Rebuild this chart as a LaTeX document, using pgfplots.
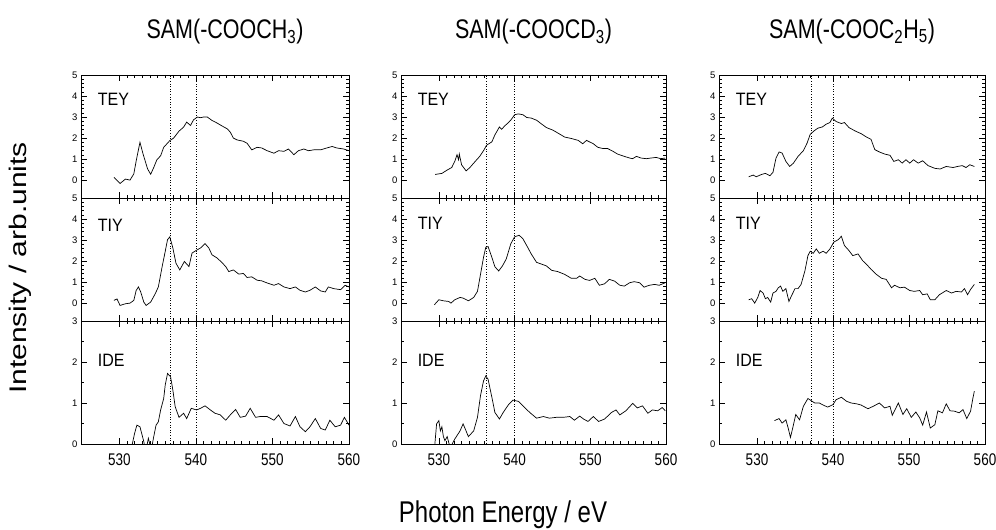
\documentclass[border=0pt]{standalone}
\usepackage{fontspec}
\setmainfont{Liberation Sans}
\usepackage{pgfplots}
\pgfplotsset{compat=1.18}

% the text of the reference is stretched vertically by about 1.25
\newcommand{\tall}[1]{\scalebox{1}[1.25]{#1}}

\pgfplotsset{
  panel/.style={
    scale only axis, height=123pt,
    xmin=525, xmax=560, xtick={530,540,550,560}, minor x tick num=9,
    major tick length=6pt, minor tick length=3pt,
    tick style={black, line width=0.6pt},
    axis line style={line width=0.8pt},
    yticklabel style={font=\fontsize{9.5}{10}\selectfont},
    xticklabel style={font=\fontsize{13.5}{14}\selectfont, yshift=-6pt},
    /pgf/number format/assume math mode=true,
    title style={font=\fontsize{21.5}{24}\selectfont, yshift=21pt},
  },
  upper/.style={panel, ymin=-0.85, ymax=5, ytick={0,...,5}, minor y tick num=4, xticklabels={}},
  lower/.style={panel, ymin=0, ymax=3, ytick={0,1,2,3}, minor y tick num=1,
    xticklabels={\tall{530},\tall{540},\tall{550},\tall{560}}},
  curve/.style={black, line width=0.7pt, no marks},
  vline/.style={black, dotted, line width=0.6pt, no marks},
}
\newcommand{\plab}[2]{\node[anchor=west, font=\fontsize{16}{18}\selectfont] at (rel axis cs:0.05,#1) {\scalebox{1}[1.12]{#2}};}

\begin{document}
\begin{tikzpicture}[x=1pt,y=1pt]
\useasboundingbox (0,0) rectangle (996,530);

% ---------------- column 1 : COOCH3 ----------------
\begin{axis}[upper, width=268pt, at={(81pt,332pt)}, anchor=south west,
  title={\tall{SAM(-COOCH\textsubscript{3})}}, title style={xshift=10pt}]
\addplot[vline] coordinates {(536.6,-1) (536.6,6)};
\addplot[vline] coordinates {(540.0,-1) (540.0,6)};
\addplot[curve] coordinates {
(529.3,0.13)(530.1,-0.16)(530.8,0.05)(531.4,0.0)(531.9,0.3)(532.2,0.9)(532.7,1.8)(533.1,1.25)
(533.7,0.53)(534.1,0.28)(534.5,0.6)(534.9,0.96)(535.4,1.16)(535.8,1.56)(536.6,1.88)(537.1,2.0)
(537.8,2.33)(538.4,2.52)(538.8,2.76)(539.3,2.6)(539.7,2.87)(540.2,3.0)(540.6,2.97)(541.0,3.0)
(541.5,3.0)(542.1,2.84)(542.8,2.71)(543.4,2.58)(544.1,2.44)(544.5,2.28)(544.9,2.0)(545.4,1.91)
(546.2,1.85)(546.7,1.75)(547.3,1.44)(548.0,1.56)(548.6,1.53)(549.3,1.4)(550.2,1.28)(550.8,1.4)
(551.5,1.37)(552.1,1.48)(552.8,1.21)(553.4,1.4)(554.1,1.48)(554.7,1.4)(555.4,1.44)(556.3,1.44)
(557.1,1.53)(557.8,1.6)(558.4,1.53)(559.3,1.48)(560,1.4)};
\plab{0.80}{TEY}
\end{axis}

\begin{axis}[upper, width=268pt, at={(81pt,209pt)}, anchor=south west]
\addplot[vline] coordinates {(536.6,-1) (536.6,6)};
\addplot[vline] coordinates {(540.0,-1) (540.0,6)};
\addplot[curve] coordinates {
(529.3,0.13)(529.7,0.2)(530.1,-0.11)(530.8,-0.03)(531.4,0)(531.9,0.13)(532.2,0.6)(532.5,0.77)
(532.8,0.53)(533.2,0.05)(533.5,-0.11)(534.1,0.05)(534.7,0.45)(535.1,0.77)(535.6,1.74)(536.0,2.46)
(536.3,3.02)(536.6,3.15)(537.0,2.62)(537.4,1.9)(537.9,1.58)(538.5,1.98)(539.1,1.74)(539.5,2.38)
(540.2,2.54)(540.6,2.62)(541.2,2.83)(541.7,2.62)(542.1,2.3)(542.8,2.14)(543.4,1.93)(543.9,1.74)
(544.3,1.5)(544.9,1.58)(545.6,1.38)(546.2,1.41)(546.7,1.22)(547.3,1.25)(548.0,1.09)(548.6,1.06)
(549.3,0.96)(550.2,0.85)(550.8,0.93)(551.5,0.77)(552.3,0.69)(553.0,0.77)(553.6,0.61)(554.3,0.53)
(554.9,0.61)(555.6,0.77)(556.3,0.58)(556.9,0.53)(557.3,0.77)(558.0,0.69)(558.9,0.64)(559.5,0.85)(560,0.77)};
\plab{0.78}{TIY}
\end{axis}

\begin{axis}[lower, width=268pt, at={(81pt,86pt)}, anchor=south west]
\addplot[vline] coordinates {(536.6,-1) (536.6,6)};
\addplot[vline] coordinates {(540.0,-1) (540.0,6)};
\addplot[curve] coordinates {
(531.5,-0.1)(531.7,0)(532.0,0.26)(532.3,0.46)(532.7,0.42)(533.2,0.06)(533.35,-0.1)(533.6,-0.05)
(533.8,0.14)(534.05,-0.05)(534.3,-0.02)(534.5,0.18)(534.8,0.46)(535.1,0.54)(535.4,0.83)(535.8,1.11)
(536.0,1.44)(536.3,1.72)(536.7,1.64)(537.0,1.31)(537.3,0.91)(537.8,0.65)(538.4,0.75)(538.8,0.62)
(539.4,0.87)(540.1,0.83)(540.6,0.87)(541.2,0.93)(541.9,0.83)(542.5,0.75)(543.2,0.71)(543.9,0.58)
(544.5,0.71)(545.2,0.84)(545.8,0.65)(546.5,0.68)(547.1,0.87)(547.8,0.65)(548.4,0.67)(549.3,0.67)
(550.2,0.58)(550.8,0.71)(551.5,0.5)(552.3,0.44)(553.0,0.67)(553.6,0.42)(554.3,0.3)(554.9,0.42)
(555.6,0.62)(556.3,0.38)(556.9,0.34)(557.5,0.58)(558.2,0.42)(558.9,0.46)(559.4,0.65)(560,0.46)};
\plab{0.68}{IDE}
\end{axis}

% ---------------- column 2 : COOCD3 ----------------
\begin{axis}[upper, width=265pt, at={(401pt,332pt)}, anchor=south west,
  title={\tall{SAM(-COOCD\textsubscript{3})}}]
\addplot[vline] coordinates {(536.2,-1) (536.2,6)};
\addplot[vline] coordinates {(540.0,-1) (540.0,6)};
\addplot[curve] coordinates {
(529.5,0.27)(530.4,0.32)(531.1,0.48)(531.7,0.6)(532.1,0.89)(532.4,1.21)(532.6,0.97)(532.7,1.24)
(533.0,0.73)(533.6,0.44)(534.1,0.6)(534.8,0.89)(535.4,1.13)(535.9,1.4)(536.3,1.66)(537.0,1.82)
(537.4,2.15)(538.0,2.53)(538.3,2.42)(538.7,2.58)(539.2,2.74)(539.6,2.9)(540.0,3.11)(540.5,3.15)
(541.1,3.11)(541.6,2.98)(542.2,2.95)(542.9,2.85)(543.6,2.66)(544.2,2.5)(545.1,2.37)(546.0,2.18)
(546.6,2.05)(547.5,1.98)(548.4,1.89)(549.0,1.73)(549.5,1.89)(550.4,1.73)(551.0,1.56)(551.7,1.5)
(552.3,1.5)(553.0,1.37)(553.6,1.24)(554.5,1.13)(555.2,1.05)(555.6,1.02)(556.1,1.13)(556.7,1.05)
(557.4,1.02)(558.0,1.05)(558.7,1.08)(559.3,1.02)(559.9,1.05)};
\plab{0.80}{TEY}
\end{axis}

\begin{axis}[upper, width=265pt, at={(401pt,209pt)}, anchor=south west]
\addplot[vline] coordinates {(536.2,-1) (536.2,6)};
\addplot[vline] coordinates {(540.0,-1) (540.0,6)};
\addplot[curve] coordinates {
(529.4,-0.08)(530.0,0.16)(530.6,0.11)(531.3,0.08)(531.6,0)(532.1,0.16)(532.8,0.27)(533.2,0.24)
(533.9,0.11)(534.6,0.27)(535.1,0.56)(535.5,1.37)(535.9,2.18)(536.2,2.66)(536.5,2.69)(537.0,2.18)
(537.4,1.73)(537.9,1.53)(538.4,1.77)(538.9,2.1)(539.5,2.82)(540.0,3.15)(540.6,3.23)(541.1,3.06)
(541.6,2.74)(542.2,2.34)(542.9,1.94)(543.6,1.85)(544.2,1.77)(544.9,1.56)(545.7,1.5)(546.6,1.37)
(547.5,1.18)(548.2,1.18)(548.6,1.29)(549.3,1.13)(549.9,1.08)(550.6,1.18)(551.2,0.85)(551.9,0.92)
(552.5,1.13)(553.2,1.05)(553.9,0.85)(554.5,0.81)(555.2,0.97)(555.8,1.02)(556.5,0.97)(557.1,0.76)
(557.8,0.85)(558.5,0.89)(559.1,0.85)(559.9,0.97)};
\plab{0.79}{TIY}
\end{axis}

\begin{axis}[lower, width=265pt, at={(401pt,86pt)}, anchor=south west]
\addplot[vline] coordinates {(536.2,-1) (536.2,6)};
\addplot[vline] coordinates {(540.0,-1) (540.0,6)};
\addplot[curve] coordinates {
(529.45,-0.05)(529.7,0.49)(530.0,0.57)(530.2,0.32)(530.4,0.42)(530.6,0.18)(530.8,0.08)(531.1,0.18)
(531.4,-0.03)(531.7,-0.02)(532.1,0.12)(532.8,0.32)(533.2,0.49)(533.5,0.36)(533.9,0.18)(534.6,0.32)
(535.1,0.65)(535.5,1.18)(535.9,1.54)(536.2,1.66)(536.5,1.58)(537.0,1.14)(537.4,0.77)(538.0,0.61)
(538.5,0.77)(539.2,0.96)(539.8,1.07)(540.5,1.04)(541.1,0.93)(542.0,0.77)(542.9,0.63)(543.8,0.67)
(544.6,0.63)(545.5,0.65)(546.4,0.65)(547.3,0.67)(547.9,0.58)(548.6,0.68)(549.1,0.61)(549.7,0.55)
(550.4,0.67)(551.1,0.55)(551.9,0.61)(552.8,0.77)(553.4,0.83)(553.9,0.71)(554.7,0.81)(555.6,0.99)
(556.2,0.88)(556.9,0.93)(557.6,0.75)(558.2,0.83)(558.9,0.81)(559.5,0.89)(559.9,0.81)};
\plab{0.68}{IDE}
\end{axis}

% ---------------- column 3 : COOC2H5 ----------------
\begin{axis}[upper, width=266pt, at={(719pt,332pt)}, anchor=south west,
  title={\tall{SAM(-COOC\textsubscript{2}H\textsubscript{5})}}]
\addplot[vline] coordinates {(537.1,-1) (537.1,6)};
\addplot[vline] coordinates {(540.1,-1) (540.1,6)};
\addplot[curve] coordinates {
(528.9,0.16)(529.5,0.24)(529.9,0.16)(530.6,0.27)(531.1,0.32)(531.7,0.21)(532.1,0.37)(532.5,1.05)
(532.9,1.34)(533.3,1.29)(533.8,0.89)(534.3,0.65)(534.8,0.81)(535.4,1.13)(536.1,1.4)(536.6,1.77)
(537.0,2.18)(537.5,2.34)(538.0,2.47)(538.6,2.53)(539.1,2.66)(539.6,2.74)(539.9,2.95)(540.4,2.79)
(541.1,2.69)(541.5,2.74)(542.1,2.5)(542.9,2.34)(543.7,2.21)(544.4,2.05)(545.0,1.94)(545.5,1.45)
(546.1,1.34)(546.8,1.24)(547.5,1.18)(548.0,0.89)(548.6,0.97)(549.1,0.81)(549.6,0.97)(550.1,0.81)
(550.6,0.97)(551.2,0.81)(551.8,0.92)(552.5,0.69)(553.4,0.56)(554.1,0.53)(554.9,0.65)(555.8,0.6)
(556.4,0.65)(557.0,0.69)(557.5,0.6)(558.0,0.73)(558.6,0.65)};
\plab{0.80}{TEY}
\end{axis}

\begin{axis}[upper, width=266pt, at={(719pt,209pt)}, anchor=south west]
\addplot[vline] coordinates {(537.1,-1) (537.1,6)};
\addplot[vline] coordinates {(540.1,-1) (540.1,6)};
\addplot[curve] coordinates {
(528.9,0.16)(529.3,0.21)(529.7,0)(530.1,0.27)(530.4,0.6)(530.8,0.48)(531.1,0.21)(531.4,0.27)
(531.8,0.05)(532.1,0.48)(532.5,0.56)(532.8,0.73)(533.1,0.81)(533.4,0.56)(533.8,0.69)(534.2,0.08)
(534.5,0.32)(535.0,0.69)(535.4,0.69)(535.8,0.89)(536.3,1.53)(536.7,2.26)(537.0,2.47)(537.4,2.37)
(537.8,2.58)(538.2,2.37)(538.7,2.47)(539.1,2.37)(539.6,2.58)(540.1,2.9)(540.7,3.02)(541.1,3.18)
(541.5,2.74)(542.1,2.5)(542.6,2.26)(543.3,2.34)(543.9,2.02)(544.6,1.77)(545.0,1.61)(545.7,1.37)
(546.4,1.18)(547.0,1.13)(547.7,0.73)(548.1,0.85)(548.8,0.73)(549.4,0.76)(550.1,0.6)(550.7,0.56)
(551.4,0.6)(551.8,0.4)(552.4,0.44)(552.8,0.16)(553.4,0.16)(554.0,0.4)(554.9,0.6)(555.6,0.48)
(556.2,0.56)(556.9,0.53)(557.3,0.69)(557.7,0.4)(558.1,0.65)(558.6,0.89)};
\plab{0.79}{TIY}
\end{axis}

\begin{axis}[lower, width=266pt, at={(719pt,86pt)}, anchor=south west]
\addplot[vline] coordinates {(537.1,-1) (537.1,6)};
\addplot[vline] coordinates {(540.1,-1) (540.1,6)};
\addplot[curve] coordinates {
(532.3,0.57)(532.9,0.62)(533.3,0.51)(533.8,0.59)(534.1,0.39)(534.4,0.16)(534.7,0.39)(535.1,0.72)
(535.6,0.59)(536.1,0.92)(536.7,1.11)(537.1,1.06)(537.6,1.0)(538.2,1.0)(538.7,0.95)(539.3,0.9)
(540.0,0.96)(540.4,1.08)(541.1,1.14)(541.8,1.04)(542.4,1.0)(543.1,0.98)(543.7,0.95)(544.6,0.86)
(545.3,0.92)(546.1,1.0)(546.8,0.88)(547.5,0.92)(547.8,0.7)(548.6,1.0)(549.2,0.72)(549.7,0.86)
(550.3,0.65)(550.9,0.78)(551.4,0.64)(551.8,0.46)(552.3,0.78)(552.8,0.39)(553.4,0.47)(553.8,0.81)
(554.4,0.76)(554.9,0.98)(555.4,0.81)(556.0,0.8)(556.6,0.76)(557.1,0.84)(557.6,0.62)(558.1,0.8)
(558.4,1.11)(558.6,1.29)};
\plab{0.68}{IDE}
\end{axis}

% common axis labels
\node[rotate=90, font=\fontsize{24}{26}\selectfont] at (20,262) {\scalebox{1.25}[1]{Intensity / arb.units}};
\node[font=\fontsize{24}{26}\selectfont] at (503,15) {\tall{Photon Energy / eV}};
\end{tikzpicture}
\end{document}
